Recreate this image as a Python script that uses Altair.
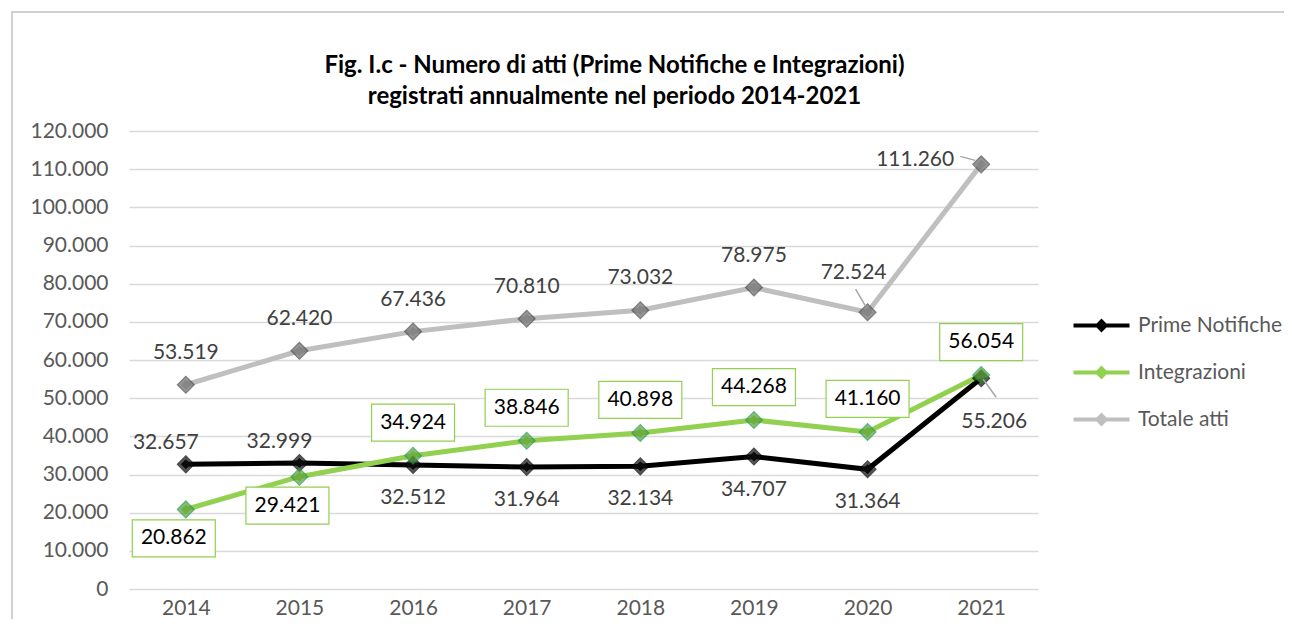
import altair as alt
import pandas as pd

years = [2014, 2015, 2016, 2017, 2018, 2019, 2020, 2021]
prime = [32657, 32999, 32512, 31964, 32134, 34707, 31364, 55206]
integ = [20862, 29421, 34924, 38846, 40898, 44268, 41160, 56054]
totale = [53519, 62420, 67436, 70810, 73032, 78975, 72524, 111260]
series_names = ["Prime Notifiche", "Integrazioni", "Totale atti"]
title_lines = ["Fig. I.c - Numero di atti (Prime Notifiche e Integrazioni)",
               "registrati annualmente nel periodo 2014-2021"]
y_ticks = list(range(0, 120001, 10000))

rows = []
for name, vals in zip(series_names, [prime, integ, totale]):
    for y, v in zip(years, vals):
        rows.append({"year": y, "value": v, "series": name})
df = pd.DataFrame(rows)

FONT = "Lato"
line_colors = ["#000000", "#92d050", "#bfbfbf"]
marker_fill = ["#111111", "#5fa23a", "#6e6e6e"]
marker_stroke = ["#000000", "#1f9a48", "#4a4a4a"]

x = alt.X("year:O", scale=alt.Scale(type="point", padding=0.5),
          axis=alt.Axis(title=None, labelAngle=0, ticks=False, domain=False,
                        labelFontSize=21, labelColor="#595959", labelFont=FONT,
                        labelPadding=8, tickSize=0, grid=False))
y = alt.Y("value:Q", scale=alt.Scale(domain=[0, 120000], nice=False),
          axis=alt.Axis(title=None, values=y_ticks, ticks=False, domain=False,
                        labelExpr="replace(format(datum.value, ','), ',', '.')",
                        labelFontSize=21, labelColor="#595959", labelFont=FONT,
                        labelPadding=21, tickSize=0, gridColor="#d9d9d9",
                        gridWidth=1.6))

base = alt.Chart(df).encode(x=x, y=y)

frame = alt.Chart(df).mark_rect(fill=None, stroke="#d0d0d0", strokeWidth=2).encode(
    x=alt.value(-117), x2=alt.value(1160), y=alt.value(-119), y2=alt.value(497))

lines = base.mark_line(strokeWidth=5).encode(
    stroke=alt.Stroke("series:N", scale=alt.Scale(domain=series_names, range=line_colors),
                      legend=None),
    order=alt.Order("year:O"))

legend_path = "M-4,-0.3H-0.7L0,-1L0.7,-0.3H4V0.3H0.7L0,1L-0.7,0.3H-4Z"
legend_layer = base.mark_point(filled=True, shape="diamond", size=100, opacity=1).encode(
    fill=alt.Fill("series:N", scale=alt.Scale(domain=series_names, range=line_colors),
                  legend=alt.Legend(title=None, orient="none", legendX=962, legendY=184,
                                    symbolType=legend_path, symbolSize=196,
                                    symbolStrokeWidth=0, labelOffset=26, rowPadding=25,
                                    labelFontSize=21, labelFont=FONT, labelColor="#595959",
                                    padding=0, labelLimit=300)))

markers = base.mark_point(filled=True, shape="diamond", size=270, strokeWidth=1.5).encode(
    fill=alt.Fill("series:N", scale=alt.Scale(domain=series_names, range=marker_fill),
                  legend=None),
    stroke=alt.Stroke("series:N", scale=alt.Scale(domain=series_names, range=marker_stroke),
                      legend=None))


def sel(series, yrs):
    yl = ",".join(str(v) for v in yrs)
    return alt.Chart(df).transform_filter(
        f"datum.series == '{series}' && indexof([{yl}], datum.year) >= 0"
    ).transform_calculate(
        label="replace(format(datum.value, ','), ',', '.')"
    ).encode(x=x, y=y)


def lbl(series, yrs, dx, dy, color="#404040"):
    return sel(series, yrs).mark_text(dx=dx, dy=dy, fontSize=21, font=FONT, color=color,
                                      align="center", baseline="middle").encode(
        text="label:N")


def box(series, yrs, dx, dy):
    shape = "M-1,-0.446H1V0.446H-1Z"
    return sel(series, yrs).mark_point(shape=shape, size=83 * 83, filled=False,
                                       fill="white", fillOpacity=1, stroke="#92d050",
                                       strokeWidth=1.2, opacity=1,
                                       xOffset=dx, yOffset=dy)


def leader(series, yrs, x1, y1, x2, y2):
    return sel(series, yrs).mark_rule(color="#a6a6a6", strokeWidth=1.5,
                                      xOffset=x1, yOffset=y1,
                                      x2Offset=x2, y2Offset=y2).encode(x2="year:O", y2="value:Q")


T, P, I = series_names[2], series_names[0], series_names[1]
labels = [
    lbl(T, years[:6], 0, -32),
    lbl(T, [2020], -14, -39),
    lbl(T, [2021], -66, -4),
    lbl(P, [2014, 2015], -20, -21),
    lbl(P, years[2:7], 0, 33),
    lbl(P, [2021], 13, 44),
    box(I, [2014, 2015], -12, 29),
    box(I, years[2:], 0, -33),
    lbl(I, [2014, 2015], -12, 29, "#000000"),
    lbl(I, years[2:], 0, -33, "#000000"),
    leader(T, [2020], -12, -23, -2, -6),
    leader(T, [2021], -21, -8, -6, -4),
    leader(P, [2021], 2, 1, 15, 19),
]

chart = alt.layer(frame, legend_layer, lines, markers, *labels).resolve_scale(
    fill="independent", stroke="independent"
).properties(
    width=909, height=458,
    autosize=alt.AutoSizeParams(type="none"),
    padding={"left": 121, "top": 123, "right": 246, "bottom": 30},
    title=alt.TitleParams(title_lines, fontSize=24, font=FONT, fontWeight="bold",
                          color="#000000", lineHeight=31, dx=31, offset=-98,
                          anchor="middle", frame="group"),
).configure_view(stroke=None)

chart.save("out.html", embed_options={"renderer": "svg", "actions": False})
